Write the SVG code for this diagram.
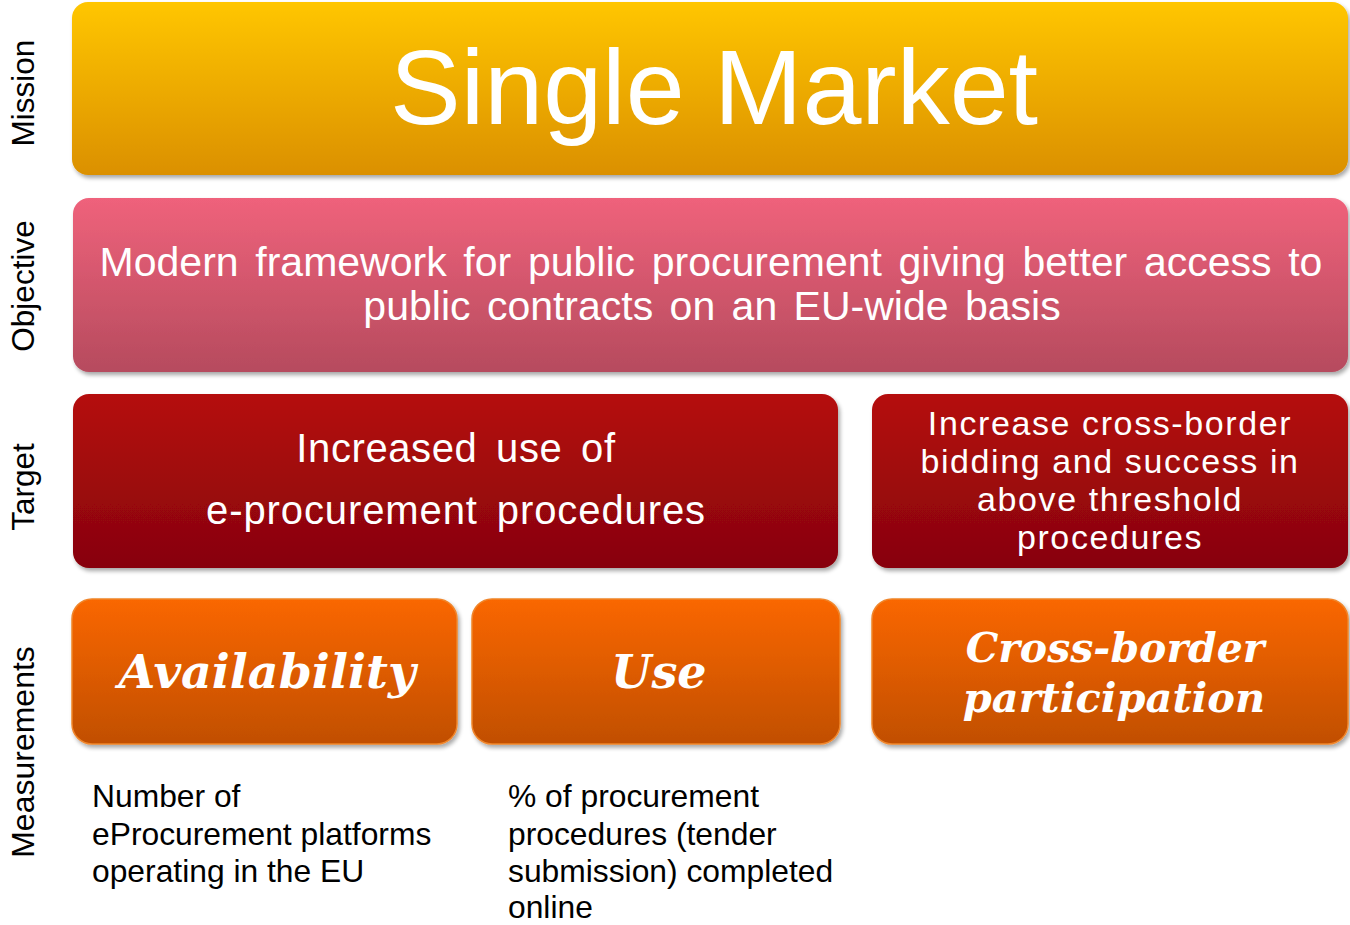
<svg xmlns="http://www.w3.org/2000/svg" width="1350" height="925" viewBox="0 0 1350 925">
<defs>
<linearGradient id="gMission" x1="0" y1="0" x2="0" y2="1"><stop offset="0" stop-color="#FFC600"/><stop offset="1" stop-color="#DB9000"/></linearGradient>
<linearGradient id="gObjective" x1="0" y1="0" x2="0" y2="1"><stop offset="0" stop-color="#EF627B"/><stop offset="1" stop-color="#B64B5E"/></linearGradient>
<linearGradient id="gTarget" x1="0" y1="0" x2="0" y2="1"><stop offset="0" stop-color="#B50C0C"/><stop offset="1" stop-color="#870407"/></linearGradient>
<linearGradient id="gMeas" x1="0" y1="0" x2="0" y2="1"><stop offset="0" stop-color="#FA6700"/><stop offset="1" stop-color="#C14F00"/></linearGradient>
<filter id="shadow" x="-5%" y="-10%" width="110%" height="125%">
<feGaussianBlur in="SourceAlpha" stdDeviation="2"/>
<feOffset dx="2" dy="3" result="b"/>
<feComponentTransfer><feFuncA type="linear" slope="0.35"/></feComponentTransfer>
<feMerge><feMergeNode/><feMergeNode in="SourceGraphic"/></feMerge>
</filter>
</defs>
<style>
.lbl{font-family:"Liberation Sans",Arial,sans-serif;font-size:31.5px;fill:#000;text-anchor:middle}
.w{font-family:"Liberation Sans",Arial,sans-serif;fill:#fff;text-anchor:middle}
.m{font-family:"DejaVu Serif",serif;font-weight:bold;font-style:italic;fill:#fff;text-anchor:middle}
.note{font-family:"Liberation Sans",Arial,sans-serif;font-size:31.8px;fill:#000}
.meas{stroke:#F0852A;stroke-width:1.5}
</style>
<rect width="1350" height="925" fill="#fff"/>

<g id="row-labels">
<text class="lbl" transform="translate(34,93) rotate(-90)">Mission</text>
<text class="lbl" transform="translate(34,286) rotate(-90)">Objective</text>
<text class="lbl" transform="translate(34,487) rotate(-90)">Target</text>
<text class="lbl" transform="translate(34,752) rotate(-90)" style="font-size:32px">Measurements</text>
</g>

<g id="mission">
<rect x="72" y="2" width="1276" height="173" rx="16" fill="url(#gMission)" filter="url(#shadow)"/>
<text class="w" x="714" y="124" font-size="106">Single Market</text>
</g>

<g id="objective">
<rect x="73" y="198" width="1275" height="174" rx="16" fill="url(#gObjective)" filter="url(#shadow)"/>
<text class="w" x="711" y="276" font-size="41" word-spacing="5.3">Modern framework for public procurement giving better access to</text>
<text class="w" x="712" y="320" font-size="41" word-spacing="5">public contracts on an EU-wide basis</text>
</g>

<g id="target-eprocurement">
<rect x="73" y="394" width="765" height="174" rx="16" fill="url(#gTarget)" filter="url(#shadow)"/>
<text class="w" x="456" y="462" font-size="40" word-spacing="7" letter-spacing="0.6">Increased use of</text>
<text class="w" x="456" y="524" font-size="40" word-spacing="7" letter-spacing="0.9">e-procurement procedures</text>
</g>

<g id="target-crossborder">
<rect x="872" y="394" width="476" height="174" rx="16" fill="url(#gTarget)" filter="url(#shadow)"/>
<text class="w" x="1110" y="435" font-size="34" letter-spacing="1.6">Increase cross-border</text>
<text class="w" x="1110" y="473" font-size="34" letter-spacing="1.6">bidding and success in</text>
<text class="w" x="1110" y="511" font-size="34" letter-spacing="1.6">above threshold</text>
<text class="w" x="1110" y="549" font-size="34" letter-spacing="1.6">procedures</text>
</g>

<g id="meas-availability">
<rect class="meas" x="72" y="599" width="385" height="145" rx="20" fill="url(#gMeas)" filter="url(#shadow)"/>
<text class="m" x="267" y="688" font-size="47.5">Availability</text>
</g>

<g id="meas-use">
<rect class="meas" x="472" y="599" width="368" height="145" rx="20" fill="url(#gMeas)" filter="url(#shadow)"/>
<text class="m" x="659" y="688" font-size="46">Use</text>
</g>

<g id="meas-crossborder">
<rect class="meas" x="872" y="599" width="476" height="145" rx="20" fill="url(#gMeas)" filter="url(#shadow)"/>
<text class="m" x="1115" y="662" font-size="41">Cross-border</text>
<text class="m" x="1114" y="712" font-size="41.5">participation</text>
</g>

<g id="note-availability">
<text class="note" x="92" y="807">Number of</text>
<text class="note" x="92" y="844.5">eProcurement platforms</text>
<text class="note" x="92" y="882">operating in the EU</text>
</g>

<g id="note-use">
<text class="note" x="508" y="807">% of procurement</text>
<text class="note" x="508" y="844.5">procedures (tender</text>
<text class="note" x="508" y="882">submission) completed</text>
<text class="note" x="508" y="917.5">online</text>
</g>

<g id="connectors"></g>
</svg>
